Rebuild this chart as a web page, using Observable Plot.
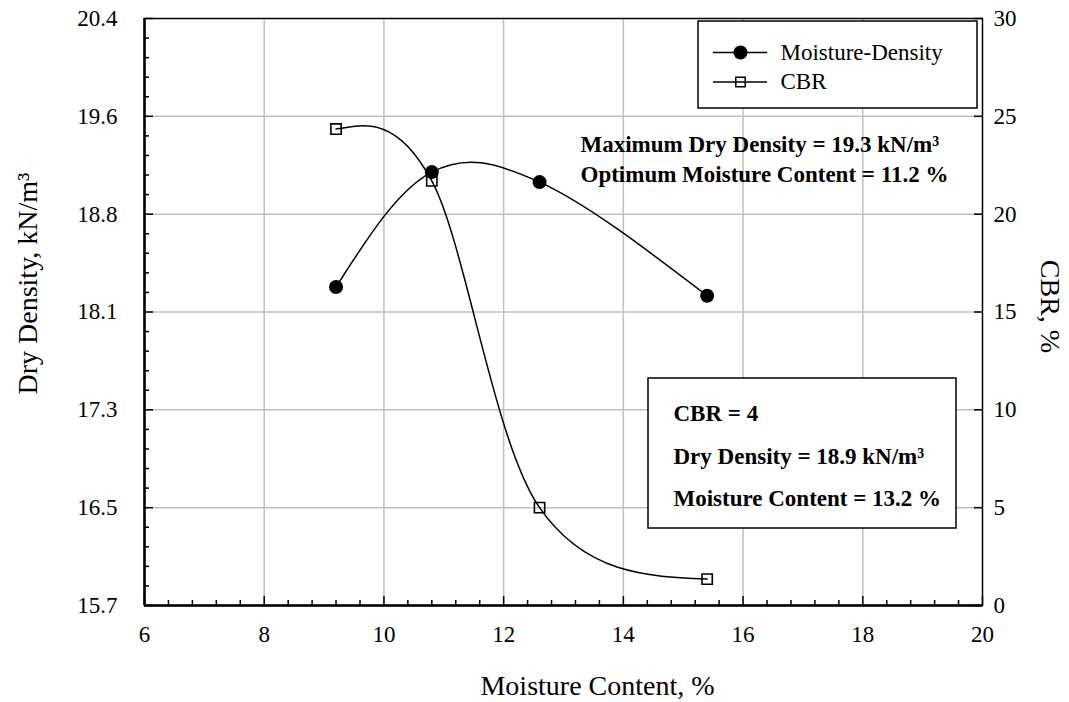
<!DOCTYPE html>
<html>
<head>
<meta charset="utf-8">
<script src="https://cdn.jsdelivr.net/npm/d3@7"></script>
<script src="https://cdn.jsdelivr.net/npm/@observablehq/plot@0.6"></script>
<style>
  body { margin: 0; background: #fff; }
</style>
</head>
<body>
<div id="chart"></div>
<script>
// ---- data ----
const moisture = [9.2, 10.8, 12.6, 15.4];
const dryDensity = [18.25, 19.17, 19.09, 18.18];
const cbrValues = [24.35, 21.7, 5.0, 1.35];
const xTicks = [6, 8, 10, 12, 14, 16, 18, 20];
const leftTickLabels = ["15.7", "16.5", "17.3", "18.1", "18.8", "19.6", "20.4"];
const rightTickLabels = [0, 5, 10, 15, 20, 25, 30];
const seriesNames = ["Moisture-Density", "CBR"];
const annotTop = ["Maximum Dry Density = 19.3 kN/m³", "Optimum Moisture Content = 11.2 %"];
const annotBox = ["CBR = 4", "Dry Density = 18.9 kN/m³", "Moisture Content = 13.2 %"];
const xTitle = "Moisture Content, %";
const yTitle = "Dry Density, kN/m³";
const y2Title = "CBR, %";

// ---- layout ----
const W = 1069, H = 702;
const mL = 144, mR = 87, mT = 18, mB = 97;
const xMin = 6, xMax = 20, yMin = 15.7, yMax = 20.4, cbrMax = 30;
const plotW = W - mL - mR, plotH = H - mT - mB;
const cbrToY = c => yMin + c * (yMax - yMin) / cbrMax;
const px2x = px => xMin + (px - mL) * (xMax - xMin) / plotW;
const px2y = py => yMax - (py - mT) * (yMax - yMin) / plotH;

const yMajor = rightTickLabels.map(cbrToY);
const yMinor = d3.range(0, cbrMax + 0.001, 1).filter(c => c % 5 !== 0).map(cbrToY);
const xMinor = d3.range(xMin, xMax + 0.001, 0.4).filter(v => Math.abs(v / 2 - Math.round(v / 2)) > 0.01);

const md = moisture.map((m, i) => ({x: m, y: dryDensity[i]}));
const cb = moisture.map((m, i) => ({x: m, y: cbrToY(cbrValues[i])}));

// spreadsheet-style smoothed line: Bezier segments, Catmull-Rom tangents, quadratic end conditions
function smoothCurve(context) {
  let pts = [];
  return {
    areaStart() {}, areaEnd() {},
    lineStart() { pts = []; },
    point(x, y) { pts.push([+x, +y]); },
    lineEnd() {
      const n = pts.length;
      if (!n) return;
      context.moveTo(pts[0][0], pts[0][1]);
      if (n === 2) { context.lineTo(pts[1][0], pts[1][1]); return; }
      if (n === 1) return;
      const T = pts.map((p, i) => (i > 0 && i < n - 1)
        ? [(pts[i + 1][0] - pts[i - 1][0]) / 2, (pts[i + 1][1] - pts[i - 1][1]) / 2] : null);
      T[0] = [0, 1].map(k => (3 * (pts[1][k] - pts[0][k]) - T[1][k]) / 2);
      T[n - 1] = [0, 1].map(k => (3 * (pts[n - 1][k] - pts[n - 2][k]) - T[n - 2][k]) / 2);
      for (let i = 0; i < n - 1; i++) {
        const a = pts[i], b = pts[i + 1];
        context.bezierCurveTo(a[0] + T[i][0] / 3, a[1] + T[i][1] / 3,
                              b[0] - T[i + 1][0] / 3, b[1] - T[i + 1][1] / 3, b[0], b[1]);
      }
    }
  };
}

const font = "'Liberation Serif', 'Times New Roman', serif";
const grid = {stroke: "#c0c0c0", strokeOpacity: 1, strokeWidth: 1.5};
const FS = 23, TFS = 28;

// legend geometry
const legRows = [52, 81.5];
const legendLines = legRows.map(py => ({x1: px2x(713), x2: px2x(767), y: px2y(py)}));

const label = (txt, px, py, opts = {}) =>
  Plot.text([txt], {text: d => d, frameAnchor: "top-left", dx: px - mL, dy: py - mT,
    textAnchor: "start", lineAnchor: "middle", fontSize: FS, ...opts});

const chart = Plot.plot({
  width: W, height: H,
  marginLeft: mL, marginRight: mR, marginTop: mT, marginBottom: mB,
  style: {fontFamily: font, fontSize: FS + "px", color: "black", background: "white"},
  x: {domain: [xMin, xMax], axis: null},
  y: {domain: [yMin, yMax], axis: null},
  marks: [
    Plot.gridX(xTicks.slice(1, -1), grid),
    Plot.gridY(yMajor.slice(1, -1), grid),
    // ticks (inward)
    Plot.axisX(xTicks, {anchor: "bottom", tickSize: -9, fill: "none", strokeWidth: 1.5}),
    Plot.axisX(xMinor, {anchor: "bottom", tickSize: -5, fill: "none", strokeWidth: 1.5}),
    Plot.axisY(yMajor, {anchor: "left", tickSize: -9, fill: "none", strokeWidth: 1.5}),
    Plot.axisY(yMinor, {anchor: "left", tickSize: -5, fill: "none", strokeWidth: 1.5}),
    Plot.axisY(yMajor, {anchor: "right", tickSize: -9, fill: "none", strokeWidth: 1.5}),
    // tick labels
    Plot.axisX(xTicks, {anchor: "bottom", tickSize: 0, tickPadding: 20, fontSize: FS, tickFormat: d => String(d)}),
    Plot.axisY(yMajor, {anchor: "left", tickSize: 0, tickPadding: 27, fontSize: FS, tickFormat: (d, i) => leftTickLabels[i]}),
    Plot.axisY(yMajor, {anchor: "right", tickSize: 0, tickPadding: 11, fontSize: FS, tickFormat: (d, i) => String(rightTickLabels[i])}),
    // frame
    Plot.frame({stroke: "black", strokeWidth: 1.5}),
    Plot.ruleX([xMin], {stroke: "black", strokeWidth: 2.5}),
    Plot.ruleY([yMin], {stroke: "black", strokeWidth: 2.5}),
    // series
    Plot.line(cb, {x: "x", y: "y", curve: smoothCurve, stroke: "black", strokeWidth: 1.5}),
    Plot.dot(cb, {x: "x", y: "y", symbol: "square", r: 5.8, fill: "none", stroke: "black", strokeWidth: 1.6}),
    Plot.line(md, {x: "x", y: "y", curve: smoothCurve, stroke: "black", strokeWidth: 1.5}),
    Plot.dot(md, {x: "x", y: "y", r: 7, fill: "black", stroke: "none"}),
    // legend
    Plot.rect([{x1: px2x(698), x2: px2x(977), y1: px2y(108), y2: px2y(21)}],
      {x1: "x1", x2: "x2", y1: "y1", y2: "y2", fill: "white", stroke: "black", strokeWidth: 1.5}),
    Plot.ruleY(legendLines, {x1: "x1", x2: "x2", y: "y", stroke: "black", strokeWidth: 1.5}),
    Plot.dot([{x: px2x(740), y: px2y(legRows[0])}], {x: "x", y: "y", r: 7, fill: "black"}),
    Plot.dot([{x: px2x(740), y: px2y(legRows[1])}], {x: "x", y: "y", symbol: "square", r: 5.3, fill: "none", stroke: "black", strokeWidth: 1.5}),
    label(seriesNames[0], 780, legRows[0]),
    label(seriesNames[1], 780, legRows[1]),
    // annotation top
    label(annotTop[0], 580, 144.3, {fontWeight: "bold"}),
    label(annotTop[1], 580, 174.3, {fontWeight: "bold"}),
    // annotation box
    Plot.rect([{x1: px2x(648), x2: px2x(956), y1: px2y(528), y2: px2y(378)}],
      {x1: "x1", x2: "x2", y1: "y1", y2: "y2", fill: "white", stroke: "black", strokeWidth: 1.5}),
    label(annotBox[0], 673, 413.6, {fontWeight: "bold"}),
    label(annotBox[1], 673, 455.9, {fontWeight: "bold"}),
    label(annotBox[2], 673, 498.3, {fontWeight: "bold"}),
    // axis titles
    label(xTitle, 597, 686, {textAnchor: "middle", fontSize: TFS}),
    label(yTitle, 28, 283, {textAnchor: "middle", rotate: -90, fontSize: TFS}),
    label(y2Title, 1049, 306, {textAnchor: "middle", rotate: 90, fontSize: TFS})
  ]
});
document.getElementById("chart").appendChild(chart);
</script>
</body>
</html>
